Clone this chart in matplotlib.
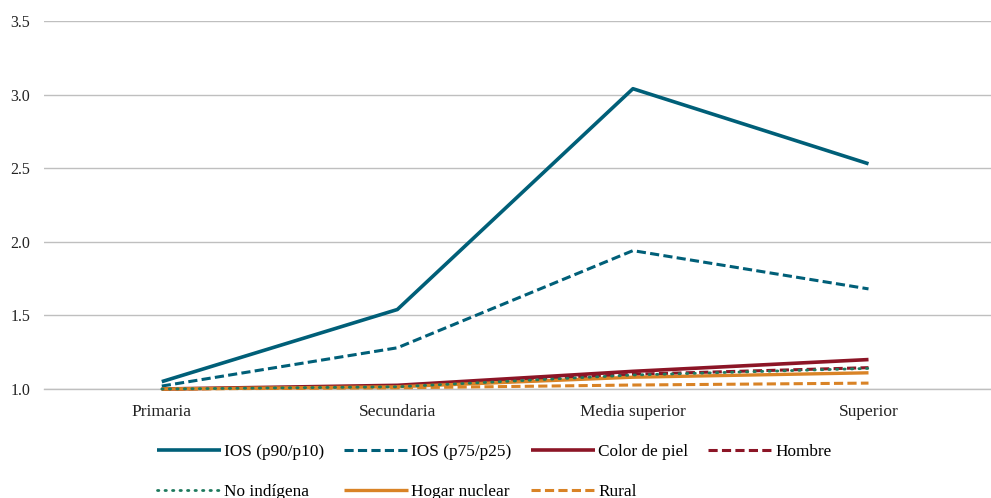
import matplotlib.pyplot as plt

plt.rcParams["font.family"] = ["Liberation Serif", "DejaVu Serif"]

# categories and series
niveles = ["Primaria", "Secundaria", "Media superior", "Superior"]
ios_p90_p10 = [1.05, 1.54, 3.04, 2.53]
ios_p75_p25 = [1.02, 1.28, 1.94, 1.68]
color_piel = [1.00, 1.025, 1.12, 1.20]
hombre = [1.00, 1.015, 1.10, 1.145]
no_indigena = [1.00, 1.015, 1.095, 1.14]
hogar_nuclear = [1.00, 1.015, 1.08, 1.11]
rural = [1.00, 1.008, 1.027, 1.04]

y_ticks = [1.0, 1.5, 2.0, 2.5, 3.0, 3.5]

TEAL = "#005F78"
RED = "#8C1526"
ORANGE = "#D98326"
GREEN = "#1E7A5E"

DASH = (0, (3.0, 1.4))
DOT = (0, (0.5, 2.2))

series = [
    ("IOS (p90/p10)", ios_p90_p10, TEAL, (0, ()), 2.6),
    ("IOS (p75/p25)", ios_p75_p25, TEAL, DASH, 2.2),
    ("Color de piel", color_piel, RED, (0, ()), 2.6),
    ("Hombre", hombre, RED, DASH, 2.2),
    ("No indígena", no_indigena, GREEN, DOT, 2.0),
    ("Hogar nuclear", hogar_nuclear, ORANGE, (0, ()), 2.4),
    ("Rural", rural, ORANGE, DASH, 2.2),
]

fig = plt.figure(figsize=(9.91, 4.98), dpi=100)
ax = fig.add_axes([44 / 991, 1 - 389 / 498, 1 - 44 / 991, (389 - 21) / 498])

x = list(range(len(niveles)))
handles = []
for label, vals, color, ls, lw in series:
    (ln,) = ax.plot(x, vals, color=color, linestyle=ls, linewidth=lw,
                    label=label, clip_on=False, solid_capstyle="butt",
                    dash_capstyle="butt", zorder=3)
    if label == "No indígena":
        ln.set_dash_capstyle("round")
        ln.set_zorder(4)
    handles.append(ln)

ax.set_xlim(-0.5, 3.52)
ax.set_ylim(1.0, 3.5)
ax.set_yticks(y_ticks)
ax.set_yticklabels([f"{v:.1f}" for v in y_ticks])
ax.set_xticks(x)
ax.set_xticklabels(niveles)
ax.grid(axis="y", color="#BFBFBF", linewidth=1.0)
ax.axhline(1.0, color="#BFBFBF", linewidth=1.0, clip_on=False, zorder=1)
ax.set_axisbelow(True)
for s in ax.spines.values():
    s.set_visible(False)
ax.tick_params(axis="both", length=0, colors="#222222")
ax.tick_params(axis="x", pad=11, labelsize=12.5)
ax.tick_params(axis="y", pad=10, labelsize=11.5)

order = [0, 4, 1, 5, 2, 6, 3]
leg = fig.legend([handles[i] for i in order], [series[i][0] for i in order],
                 ncol=4, loc="upper left", bbox_to_anchor=(150 / 991, 1 - 437 / 498),
                 frameon=False, fontsize=12.4, handlelength=3.7, handletextpad=0.2,
                 columnspacing=1.15, labelspacing=1.4, borderaxespad=0)

fig.savefig("out.png", dpi=100)
